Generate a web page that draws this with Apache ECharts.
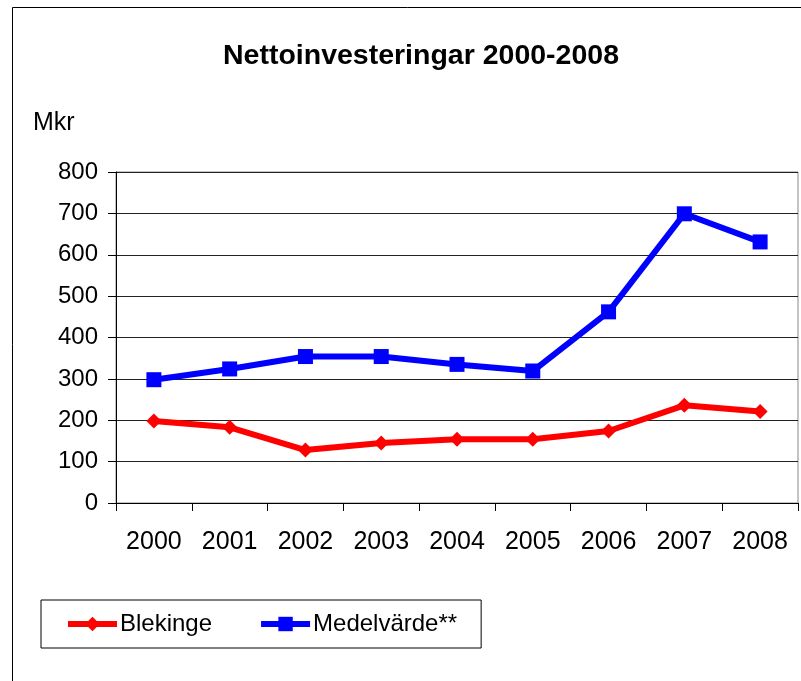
<!DOCTYPE html>
<html>
<head>
<meta charset="utf-8">
<script src="https://cdn.jsdelivr.net/npm/echarts@6/dist/echarts.min.js"></script>
<style>
html,body{margin:0;padding:0;background:#fff;}
#chart{width:801px;height:681px;}
</style>
</head>
<body>
<div id="chart"></div>
<script>
const years = ['2000','2001','2002','2003','2004','2005','2006','2007','2008'];
const blekinge = [198, 183, 128, 145, 154, 154, 174, 236, 221];
const medelvarde = [298, 324, 354, 354, 335, 319, 462, 699, 631];
const seriesNames = ['Blekinge', 'Medelvärde**'];
const titleText = 'Nettoinvesteringar 2000-2008';
const unitText = 'Mkr';

const FONT = '"Liberation Sans", Arial, sans-serif';
const chart = echarts.init(document.getElementById('chart'), null, {renderer: 'canvas'});
chart.setOption({
  backgroundColor: '#fff',
  animation: false,
  title: {
    text: titleText,
    left: 416, top: 37, textAlign: 'center',
    textStyle: {fontFamily: FONT, fontWeight: 'bold', fontSize: 28.5, color: '#000'}
  },
  graphic: [
    {type: 'rect', shape: {x: 12.5, y: 7.5, width: 900, height: 900}, style: {fill: 'none', stroke: '#000', lineWidth: 1}, z: -1},
    {type: 'text', left: 33, top: 111, style: {text: unitText, font: '25px ' + FONT, fill: '#000'}}
  ],
  legend: {
    left: 41, top: 600,
    padding: [12, 24, 12, 24],
    itemWidth: 49, itemHeight: 18, itemGap: 46,
    borderColor: '#000', borderWidth: 1,
    lineStyle: {width: 6},
    textStyle: {fontFamily: FONT, fontSize: 24, color: '#000', padding: [0, 0, 0, -2]},
    data: seriesNames
  },
  grid: {
    left: 116, top: 172, right: 3, bottom: 178,
    show: true, borderColor: '#888', borderWidth: 1, backgroundColor: 'transparent'
  },
  xAxis: {
    type: 'category', data: years, boundaryGap: true,
    axisLine: {lineStyle: {color: '#000', width: 1}},
    axisTick: {show: true, length: 8, inside: false, lineStyle: {color: '#000'}},
    axisLabel: {fontFamily: FONT, fontSize: 25, color: '#000', margin: 27},
    splitLine: {show: false}
  },
  yAxis: {
    type: 'value', min: 0, max: 800, interval: 100,
    axisLine: {show: true, lineStyle: {color: '#000', width: 1}},
    axisTick: {show: true, length: 8, inside: false, lineStyle: {color: '#000'}},
    axisLabel: {fontFamily: FONT, fontSize: 24, color: '#000', margin: 18},
    splitLine: {show: true, lineStyle: {color: '#222', width: 1}}
  },
  series: [
    {
      name: seriesNames[0], type: 'line', data: blekinge,
      symbol: 'diamond', symbolSize: 15,
      lineStyle: {color: '#ff0000', width: 6},
      itemStyle: {color: '#ff0000'}
    },
    {
      name: seriesNames[1], type: 'line', data: medelvarde,
      symbol: 'rect', symbolSize: 15,
      lineStyle: {color: '#0000ff', width: 6},
      itemStyle: {color: '#0000ff'}
    }
  ]
});
</script>
</body>
</html>
